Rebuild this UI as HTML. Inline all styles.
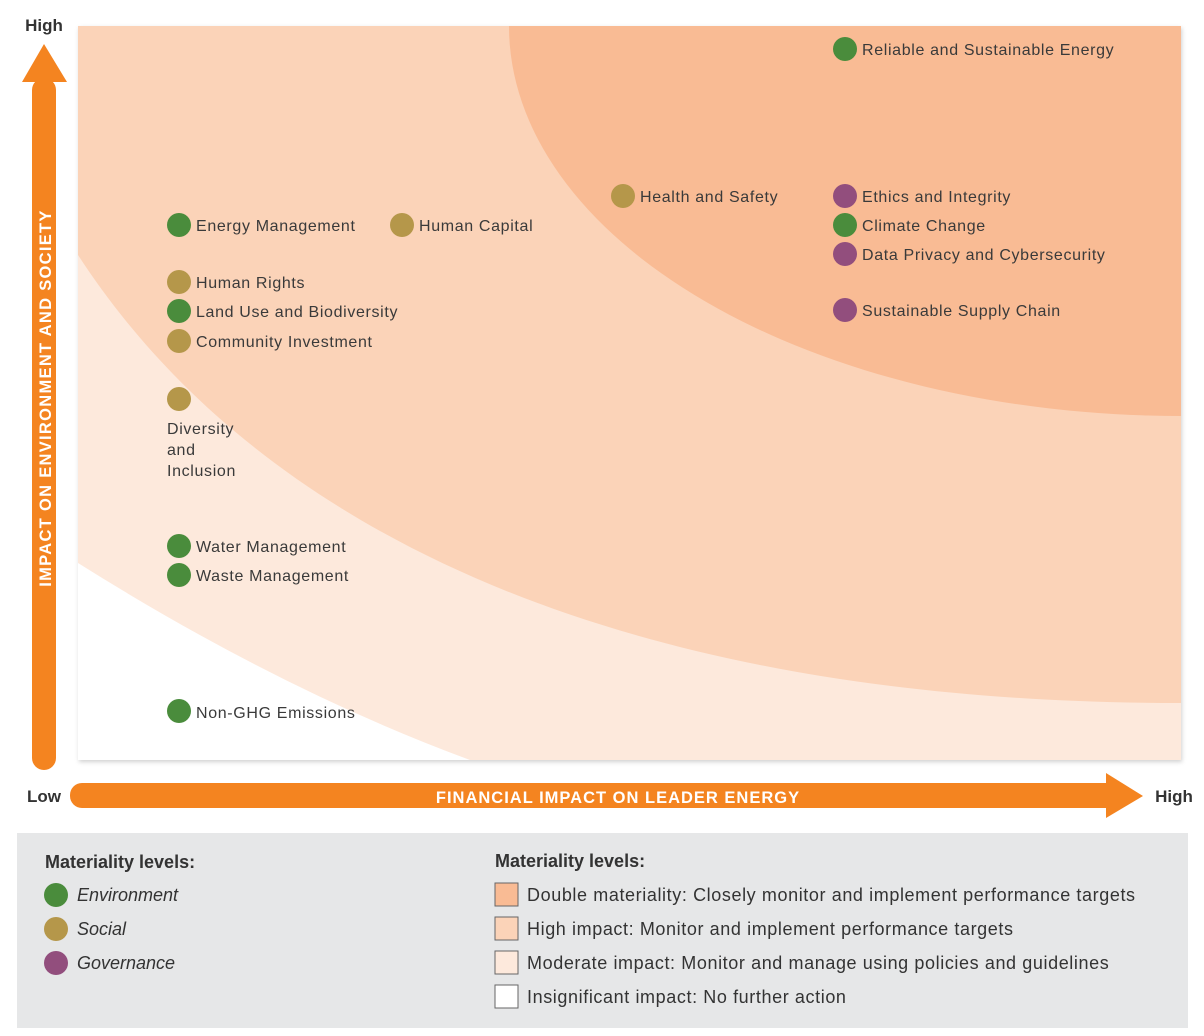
<!DOCTYPE html>
<html><head><meta charset="utf-8"><style>
body{margin:0;background:#fff;}
svg{display:block;font-family:"Liberation Sans",sans-serif;}
</style></head><body>
<svg width="1204" height="1036" viewBox="0 0 1204 1036" xmlns="http://www.w3.org/2000/svg">
<defs><filter id="sh" x="-5%" y="-5%" width="110%" height="110%"><feDropShadow dx="1" dy="2" stdDeviation="2" flood-color="#000" flood-opacity="0.18"/></filter>
<clipPath id="cp"><rect x="78" y="26" width="1103" height="734"/></clipPath></defs>
<rect x="78" y="26" width="1103" height="734" fill="#fff" filter="url(#sh)"/>
<g clip-path="url(#cp)">
<path d="M78,563 Q280,690 470,760 L1181,760 L1181,26 L78,26 Z" fill="#fde9dc"/>
<path d="M78,255 C250,520 600,703 1181,703 L1181,26 L78,26 Z" fill="#fbd3b8"/>
<path d="M509,26 A672,390 0 0 0 1181,416 L1181,26 Z" fill="#f9bb94"/>
</g>
<rect x="32" y="78" width="24" height="692" rx="12" fill="#f48420"/>
<polygon points="22,82 67,82 44,44" fill="#f48420"/>
<text x="44" y="31" text-anchor="middle" font-size="17" font-weight="bold" fill="#333">High</text>
<text transform="translate(51,398) rotate(-90)" text-anchor="middle" font-size="16.5" font-weight="bold" fill="#fff" letter-spacing="1.3">IMPACT ON ENVIRONMENT AND SOCIETY</text>
<rect x="70" y="783" width="1050" height="25" rx="12" fill="#f48420"/>
<polygon points="1106,773 1106,818 1143,796" fill="#f48420"/>
<text x="44" y="802" text-anchor="middle" font-size="17" font-weight="bold" fill="#333">Low</text>
<text x="1174" y="802" text-anchor="middle" font-size="17" font-weight="bold" fill="#333">High</text>
<text x="618" y="803" text-anchor="middle" font-size="16.5" font-weight="bold" fill="#fff" letter-spacing="1">FINANCIAL IMPACT ON LEADER ENERGY</text>
<g font-size="16" fill="#3a3a3a" letter-spacing="0.65">
<circle cx="845" cy="49" r="12" fill="#4a8c3c"/><text x="862" y="55">Reliable and Sustainable Energy</text>
<circle cx="623" cy="196" r="12" fill="#b5974a"/><text x="640" y="202">Health and Safety</text>
<circle cx="845" cy="196" r="12" fill="#924e7d"/><text x="862" y="202">Ethics and Integrity</text>
<circle cx="845" cy="225" r="12" fill="#4a8c3c"/><text x="862" y="231">Climate Change</text>
<circle cx="845" cy="254" r="12" fill="#924e7d"/><text x="862" y="260">Data Privacy and Cybersecurity</text>
<circle cx="845" cy="310" r="12" fill="#924e7d"/><text x="862" y="316">Sustainable Supply Chain</text>
<circle cx="179" cy="225" r="12" fill="#4a8c3c"/><text x="196" y="231">Energy Management</text>
<circle cx="402" cy="225" r="12" fill="#b5974a"/><text x="419" y="231">Human Capital</text>
<circle cx="179" cy="282" r="12" fill="#b5974a"/><text x="196" y="288">Human Rights</text>
<circle cx="179" cy="311" r="12" fill="#4a8c3c"/><text x="196" y="317">Land Use and Biodiversity</text>
<circle cx="179" cy="341" r="12" fill="#b5974a"/><text x="196" y="347">Community Investment</text>
<circle cx="179" cy="399" r="12" fill="#b5974a"/>
<text x="167" y="434">Diversity</text><text x="167" y="455">and</text><text x="167" y="476">Inclusion</text>
<circle cx="179" cy="546" r="12" fill="#4a8c3c"/><text x="196" y="552">Water Management</text>
<circle cx="179" cy="575" r="12" fill="#4a8c3c"/><text x="196" y="581">Waste Management</text>
<circle cx="179" cy="711" r="12" fill="#4a8c3c"/><text x="196" y="718">Non-GHG Emissions</text>
</g>
<rect x="17" y="833" width="1171" height="195" fill="#e6e7e8"/>
<g font-size="18" fill="#333">
<text x="45" y="868" font-weight="bold">Materiality levels:</text>
<circle cx="56" cy="895" r="12" fill="#4a8c3c"/><text x="77" y="901" font-style="italic">Environment</text>
<circle cx="56" cy="929" r="12" fill="#b5974a"/><text x="77" y="935" font-style="italic">Social</text>
<circle cx="56" cy="963" r="12" fill="#924e7d"/><text x="77" y="969" font-style="italic">Governance</text>
<text x="495" y="867" font-weight="bold">Materiality levels:</text>
<g letter-spacing="0.6">
<rect x="495" y="883" width="23" height="23" fill="#f9bb94" stroke="#666" stroke-width="1"/><text x="527" y="901">Double materiality: Closely monitor and implement performance targets</text>
<rect x="495" y="917" width="23" height="23" fill="#fbd3b8" stroke="#666" stroke-width="1"/><text x="527" y="935">High impact: Monitor and implement performance targets</text>
<rect x="495" y="951" width="23" height="23" fill="#fde9dc" stroke="#666" stroke-width="1"/><text x="527" y="969">Moderate impact: Monitor and manage using policies and guidelines</text>
<rect x="495" y="985" width="23" height="23" fill="#fff" stroke="#666" stroke-width="1"/><text x="527" y="1003">Insignificant impact: No further action</text>
</g>
</g>
</svg>
</body></html>
